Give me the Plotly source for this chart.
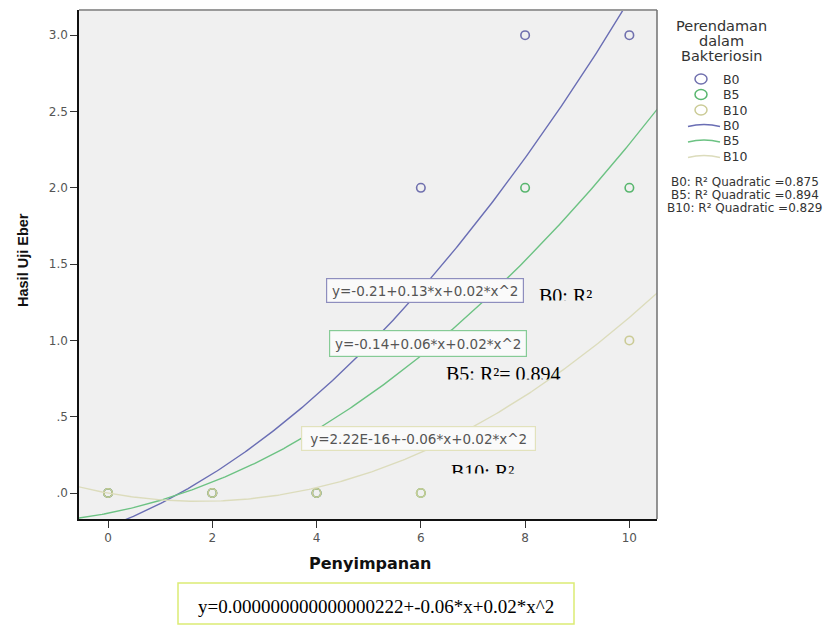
import numpy as np
import plotly.graph_objects as go

# ---------------- data ----------------
days = [0, 2, 4, 6, 8, 10]
b0_vals = [0, 0, 0, 2, 3, 3]
b5_vals = [0, 0, 0, 0, 2, 2]
b10_vals = [0, 0, 0, 0, None, 1]

# quadratic fit coefficients (a, b, c) for y = a + b*x + c*x^2
fit_b0 = [-0.221, 0.130, 0.0215]
fit_b5 = [-0.1325, 0.0669, 0.0175]
fit_b10 = [0.0, -0.062, 0.0177]

groups = ["B0", "B5", "B10"]
r2_values = [0.875, 0.894, 0.829]
eq_labels = ["y=-0.21+0.13*x+0.02*x^2",
             "y=-0.14+0.06*x+0.02*x^2",
             "y=2.22E-16+-0.06*x+0.02*x^2"]
overlay_labels = ["B0: R²", "B5: R²= 0.894", "B10: R²"]
bottom_label = "y=0.000000000000000222+-0.06*x+0.02*x^2"

x_ticks = [0, 2, 4, 6, 8, 10]
y_ticks = [0, 0.5, 1.0, 1.5, 2.0, 2.5, 3.0]
y_tick_text = [".0", ".5", "1.0", "1.5", "2.0", "2.5", "3.0"]

legend_title = ["Perendaman", "dalam", "Bakteriosin"]
x_title = "Penyimpanan"
y_title = "Hasil Uji Eber"

# ---------------- styling ----------------
W, H = 834, 625
L, R, T, B = 79, 657, 10, 519          # plot-area pixel box
marker_cols = ["#7070AE", "#58B66E", "#CBCB96"]
line_cols = ["#6A6EB4", "#6CC283", "#DCDCBC"]
box_cols = ["#8E8EBE", "#86CB96", "#E2E2BC"]
SANS = "DejaVu Sans"
SERIF = "Liberation Serif"


def px(xp):
    return (xp - L) / (R - L)


def py(yp):
    return (B - yp) / (B - T)


fig = go.Figure()

series = [b0_vals, b5_vals, b10_vals]
for g, vals, col in zip(groups, series, marker_cols):
    fig.add_trace(go.Scatter(
        x=days, y=vals, mode="markers", name=g,
        marker=dict(symbol="circle-open", size=8.5, color=col, line=dict(width=1.6, color=col)),
        showlegend=False, cliponaxis=False))

xs = np.linspace(-0.6, 10.6, 300)
for g, coef, col in zip(groups, [fit_b0, fit_b5, fit_b10], line_cols):
    ys = np.polynomial.polynomial.polyval(xs, coef)
    fig.add_trace(go.Scatter(x=xs, y=ys, mode="lines", name=g,
                             line=dict(color=col, width=1.4), showlegend=False))

shapes = []
annotations = []

# frame: gray top & right edges
shapes.append(dict(type="line", xref="paper", yref="paper", x0=0, x1=1, y0=1, y1=1,
                   line=dict(color="#9A9A9A", width=2)))
shapes.append(dict(type="line", xref="paper", yref="paper", x0=1, x1=1, y0=0, y1=1,
                   line=dict(color="#707070", width=1.5)))

# equation boxes inside the plot
eq_boxes = [(425, 291, 198, 25), (428, 343, 198, 27), (418, 438, 235, 25)]
for lab, (cx, cy, bw, bh), bc in zip(eq_labels, eq_boxes, box_cols):
    annotations.append(dict(
        text=lab, xref="paper", yref="paper", x=px(cx), y=py(cy),
        xanchor="center", yanchor="middle", showarrow=False,
        width=bw - 4, height=bh - 4, borderpad=1, borderwidth=1.2,
        bordercolor=bc, bgcolor="#FAFAFA",
        font=dict(family=SANS, size=13.5, color="#555555")))

# overlaid Times text, clipped at bottom
overlay_pos = [(538, 283.5, 15.5), (445, 361.5, 16.5), (450, 459.5, 12.5)]
for lab, (x0, ytop, hh) in zip(overlay_labels, overlay_pos):
    annotations.append(dict(
        text=lab, xref="paper", yref="paper", x=px(x0), y=py(ytop),
        xanchor="left", yanchor="top", showarrow=False,
        width=140, height=hh, align="left", valign="top", borderpad=0,
        font=dict(family=SERIF, size=20, color="#000000")))

# axis titles
annotations.append(dict(text="<b>%s</b>" % x_title, xref="paper", yref="paper",
                        x=px(370), y=py(563), xanchor="center", yanchor="middle",
                        showarrow=False, font=dict(family=SANS, size=16, color="#111111")))
annotations.append(dict(text="<b>%s</b>" % y_title, xref="paper", yref="paper",
                        x=px(23), y=py(260), xanchor="center", yanchor="middle", textangle=-90,
                        showarrow=False, font=dict(family="Liberation Sans", size=14.5, color="#111111")))

# legend (drawn manually to match spacing)
for lab, yy in zip(legend_title, [26, 41, 56]):
    annotations.append(dict(text=lab, xref="paper", yref="paper", x=px(721), y=py(yy),
                            xanchor="center", yanchor="middle", showarrow=False,
                            font=dict(family=SANS, size=14.5, color="#333333")))
marker_rows = [79, 94.5, 110]
line_rows = [125.5, 141, 156.5]
for g, yy, col in zip(groups, marker_rows, marker_cols):
    shapes.append(dict(type="circle", xref="paper", yref="paper", xsizemode="pixel", ysizemode="pixel",
                       xanchor=px(701), yanchor=py(yy), x0=-6, x1=6, y0=-5, y1=5,
                       line=dict(color=col, width=1.5)))
    annotations.append(dict(text=g, xref="paper", yref="paper", x=px(721), y=py(yy),
                            xanchor="left", yanchor="middle", showarrow=False,
                            font=dict(family=SANS, size=12.5, color="#333333")))
for g, yy, col in zip(groups, line_rows, line_cols):
    shapes.append(dict(type="path", xref="paper", yref="paper", xsizemode="pixel", ysizemode="pixel",
                       xanchor=px(704), yanchor=py(yy), path="M-16,-1 Q0,3 16,-1",
                       line=dict(color=col, width=1.6)))
    annotations.append(dict(text=g, xref="paper", yref="paper", x=px(721), y=py(yy),
                            xanchor="left", yanchor="middle", showarrow=False,
                            font=dict(family=SANS, size=12.5, color="#333333")))

for g, r2, yy in zip(groups, r2_values, [182, 195, 208]):
    annotations.append(dict(text="%s: R² Quadratic =%.3f" % (g, r2),
                            xref="paper", yref="paper", x=px(745), y=py(yy),
                            xanchor="center", yanchor="middle", showarrow=False,
                            font=dict(family=SANS, size=12, color="#333333")))

# bottom equation box
shapes.append(dict(type="rect", xref="paper", yref="paper",
                   x0=px(178), x1=px(574), y0=py(624), y1=py(583),
                   line=dict(color="#DCEB74", width=1.5), fillcolor="#FFFFFF"))
annotations.append(dict(text=bottom_label, xref="paper", yref="paper", x=px(376), y=py(606),
                        xanchor="center", yanchor="middle", showarrow=False,
                        font=dict(family=SERIF, size=19, color="#000000")))

fig.update_layout(
    width=W, height=H, autosize=False,
    margin=dict(l=L, r=W - R, t=T, b=H - B, pad=0),
    paper_bgcolor="#FFFFFF", plot_bgcolor="#F0F0F0",
    showlegend=False,
    shapes=shapes, annotations=annotations,
    xaxis=dict(range=[-0.557, 10.53], tickvals=x_ticks, ticks="outside", ticklen=7,
               tickcolor="#333333", showline=True, linecolor="#111111", linewidth=2,
               showgrid=False, zeroline=False,
               tickfont=dict(family=SANS, size=12, color="#555555")),
    yaxis=dict(range=[-0.170, 3.165], tickvals=y_ticks, ticktext=y_tick_text,
               ticks="outside", ticklen=7, tickcolor="#333333",
               showline=True, linecolor="#111111", linewidth=1.5,
               showgrid=False, zeroline=False,
               tickfont=dict(family=SANS, size=12, color="#555555")),
)

fig.write_html("out.html", config={"displayModeBar": False},
               post_script="document.body.style.margin='0px';document.body.style.overflow='hidden';")
